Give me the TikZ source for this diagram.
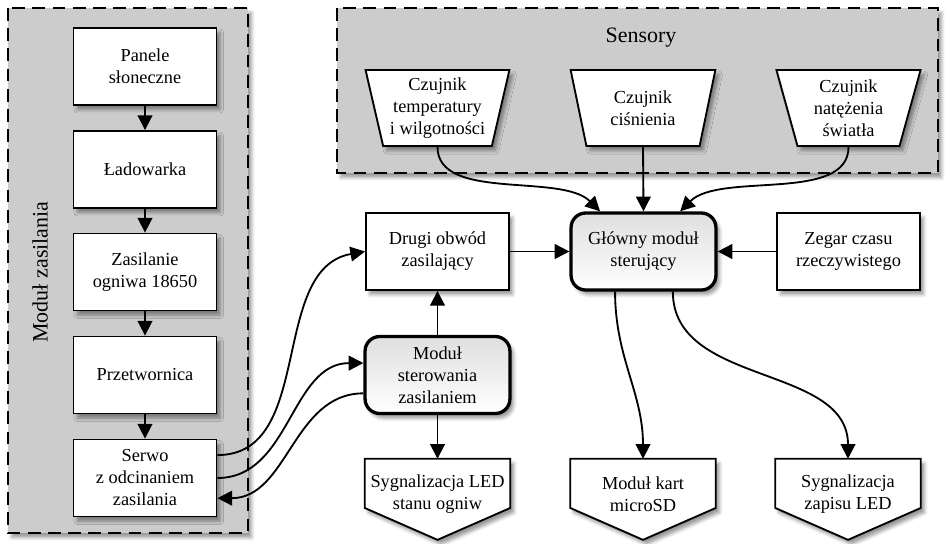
\documentclass[tikz,border=0pt]{standalone}
\usepackage{fontspec}
\setmainfont{Liberation Serif}
\usetikzlibrary{arrows.meta,positioning,shapes.geometric,shadows.blur}
\pgfdeclarelayer{background}
\pgfsetlayers{background,main}

\begin{document}
\begin{tikzpicture}[x=0.01917cm,y=0.01917cm,
    every node/.style={font=\normalsize},
    group/.style={fill=gray!40, draw=black, line width=1pt, dash pattern=on 7pt off 4pt,
      blur shadow={shadow xshift=2pt, shadow yshift=-2.5pt}},
    box/.style={draw, fill=white, line width=1pt, minimum width=78pt, minimum height=42pt,
      align=center, inner sep=2pt, blur shadow={shadow xshift=2pt, shadow yshift=-2.5pt}},
    core/.style={box, rounded corners=8pt, line width=1.8pt, minimum width=79pt,
      top color=gray!25, bottom color=white},
    sensor/.style={box, trapezium, shape border rotate=180, trapezium angle=76,
      trapezium stretches=true, minimum width=79pt, minimum height=41.5pt, inner sep=1pt},
    output/.style={align=center, minimum width=79pt, minimum height=38pt, inner sep=0pt},
    outline/.style={draw, fill=white, line width=1pt, line join=miter,
      blur shadow={shadow xshift=2pt, shadow yshift=-2.5pt}},
    link/.style={-{Triangle[length=8pt,width=8pt,fill=black]}, draw=black, line width=1pt}]
  \useasboundingbox (0,0) rectangle (945,543);
  % groups
  \draw[group] (8,535) rectangle (248,10);
  \draw[group] (337,535) rectangle (938,370);
  \node[font=\large, rotate=90] (modzas) at (40,271) {Moduł zasilania};
  \node[font=\large] (sensory) at (641,505) {Sensory};
  % power module
  \node[box] (panele) at (145,476.5) {Panele\\słoneczne};
  \node[box] (ladowarka) at (145,373.5) {Ładowarka};
  \node[box] (zasilanie) at (145,271) {Zasilanie\\ogniwa 18650};
  \node[box] (przetwornica) at (145,168) {Przetwornica};
  \node[box] (serwo) at (145,65) {Serwo\\z odcinaniem\\zasilania};
  % sensors
  \node[sensor] (temp) at (437.5,435) {Czujnik\\temperatury\\i wilgotności};
  \node[sensor] (cisn) at (643,435) {Czujnik\\ciśnienia};
  \node[sensor] (swiatlo) at (848.5,435) {Czujnik\\natężenia\\światła};
  % middle row
  \node[box] (drugi) at (437.5,291.5) {Drugi obwód\\zasilający};
  \node[core] (glowny) at (643.5,291.5) {Główny moduł\\sterujący};
  \node[box] (zegar) at (848.5,291.5) {Zegar czasu\\rzeczywistego};
  \node[core] (sterowanie) at (437.5,168) {Moduł\\sterowania\\zasilaniem};
  % outputs
  \node[output] (ledogniw) at (437.5,49) {Sygnalizacja LED\\stanu ogniw};
  \node[output] (microsd) at (643,49) {Moduł kart\\microSD};
  \node[output] (ledzapis) at (848,49) {Sygnalizacja\\zapisu LED};
  \begin{pgfonlayer}{background}
    \foreach \n in {ledogniw,microsd,ledzapis}
      \draw[outline] (\n.north west) -- (\n.north east) -- ([yshift=-7.6pt]\n.east)
        -- ([yshift=-25pt]\n.center) -- ([yshift=-7.6pt]\n.west) -- cycle;
  \end{pgfonlayer}
  % connections
  \foreach \a/\b in {panele/ladowarka, ladowarka/zasilanie, zasilanie/przetwornica, przetwornica/serwo}
    \draw[link] (\a) -- (\b);
  \draw[link] (temp.south) to[out=-90,in=135,looseness=0.8] ([xshift=-23.7pt]glowny.north);
  \draw[link] (cisn.south) -- (glowny.north);
  \draw[link] (swiatlo.south) to[out=-90,in=45,looseness=0.8] ([xshift=20pt]glowny.north);
  \draw[link] (drugi) -- (glowny);
  \draw[link] (zegar) -- (glowny);
  \draw[link] (sterowanie) -- (drugi);
  \draw[link] (sterowanie) -- (ledogniw);
  \draw[link] ([xshift=-15.5pt]glowny.south) to[out=-90,in=90] (microsd.north);
  \draw[link] ([xshift=16pt]glowny.south) to[out=-90,in=90] (ledzapis.north);
  \draw[link] ([yshift=12.5pt]serwo.east) to[out=0,in=190] (drugi.west);
  \draw[link] (serwo.east) to[out=0,in=180] ([yshift=6.5pt]sterowanie.west);
  \draw[link] ([yshift=-10pt]sterowanie.west) to[out=180,in=0] ([yshift=-11pt]serwo.east);
\end{tikzpicture}
\end{document}
